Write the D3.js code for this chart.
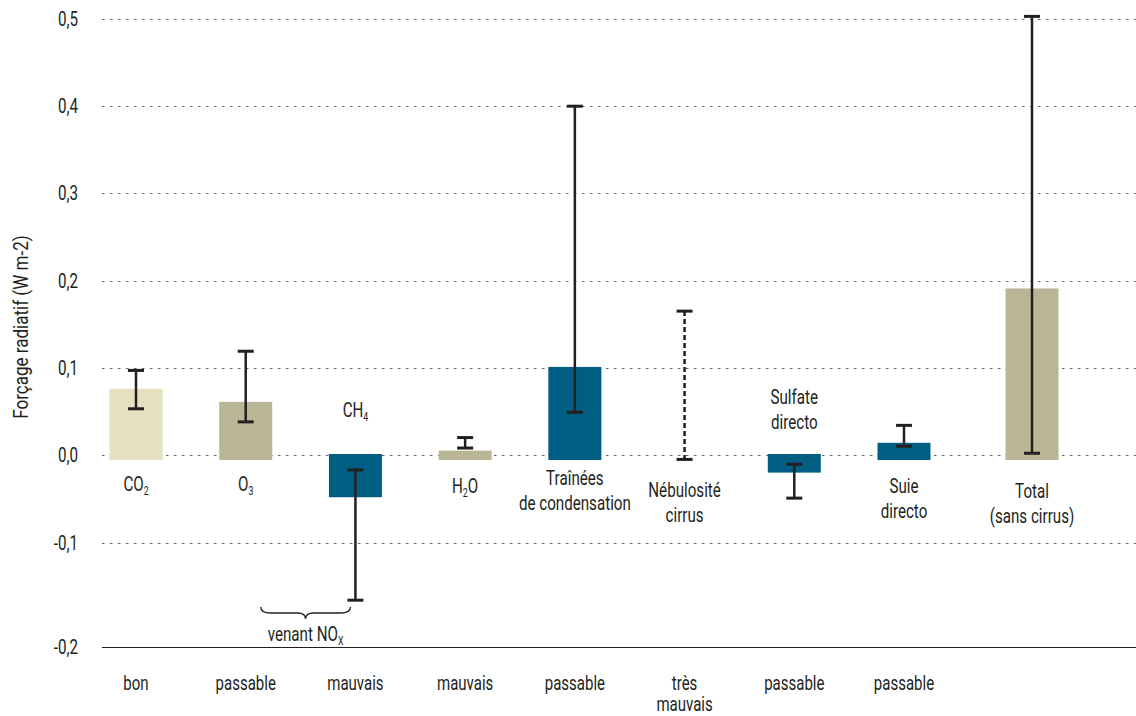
<!DOCTYPE html>
<html>
<head>
<meta charset="utf-8">
<script src="https://cdn.jsdelivr.net/npm/d3@7"></script>
<style>
  html, body { margin: 0; padding: 0; background: #fff; }
  svg text { font-family: "Roboto", "DejaVu Sans Condensed", sans-serif; fill: #231f20; }
</style>
</head>
<body>
<svg id="chart" width="1136" height="716"></svg>
<script>
// ---- data ----
const categories = ["CO2", "O3", "CH4", "H2O", "Trainees", "Nebulosite", "Sulfate", "Suie", "Total"];
const values     = [0.076, 0.061, -0.048, 0.005, 0.101, null, -0.020, 0.014, 0.191];
const errLow     = [0.053, 0.038, -0.155, 0.008, 0.049, -0.005, -0.049, 0.010, 0.002];
const errHigh    = [0.097, 0.119, -0.017, 0.020, 0.400, 0.165, -0.0105, 0.034, 0.503];
const colorKeys  = ["light", "khaki", "blue", "khaki", "blue", "none", "blue", "blue", "khaki"];
const ratings    = [["bon"], ["passable"], ["mauvais"], ["mauvais"], ["passable"], ["très", "mauvais"], ["passable"], ["passable"], []];
const yTicks     = [-0.2, -0.1, 0.0, 0.1, 0.2, 0.3, 0.4, 0.5];
const yTickLabels = ["-0,2", "-0,1", "0,0", "0,1", "0,2", "0,3", "0,4", "0,5"];
// label lines; each line = [main, subscript?, rest?]
const catLabelLines = [
  [["CO", "2"]],
  [["O", "3"]],
  [["CH", "4"]],
  [["H", "2", "O"]],
  [["Traînées"], ["de condensation"]],
  [["Nébulosité"], ["cirrus"]],
  [["Sulfate"], ["directo"]],
  [["Suie"], ["directo"]],
  [["Total"], ["(sans cirrus)"]]
];
const yTitle = "Forçage radiatif (W m-2)";

const palette = {light: "#e5e1c0", khaki: "#b8b694", blue: "#005e82"};

// ---- layout constants ----
const SX = 0.74;       // horizontal condensing of text
const FS = 20.5;       // font size
// first baseline of each category label
const labelBase = [491, 491, 417, 493, 485, 497, 404, 493, 498];
const lineH = 25;

// ---- scales ----
const svg = d3.select("#chart");
const y = d3.scaleLinear().domain([-0.2, -0.1, 0, 0.5]).range([647, 543, 455, 19]);
const x = d3.scaleLinear().domain([0, 7, 8]).range([136, 904, 1032]);
const barW = 53;

function addText(parent, tx, ty, parts, anchor = "middle", size = FS, rotate = 0, sx = SX) {
  const t = parent.append("text")
    .attr("transform", `translate(${tx},${ty})` + (rotate ? ` rotate(${rotate})` : "") + ` scale(${sx},1)`)
    .attr("text-anchor", anchor)
    .attr("font-size", size);
  t.append("tspan").text(parts[0]);
  if (parts.length > 1) {
    t.append("tspan").attr("font-size", size * 0.58).attr("dy", 4).text(parts[1]);
    if (parts.length > 2) t.append("tspan").attr("dy", -4).text(parts[2]);
  }
  return t;
}

// ---- gridlines ----
const grid = svg.append("g");
yTicks.forEach((t, i) => {
  const gy = Math.round(y(t)) + 0.5;
  grid.append("line")
    .attr("x1", 102).attr("x2", 1136).attr("y1", gy).attr("y2", gy)
    .attr("stroke", t === -0.2 ? "#231f20" : "#666")
    .attr("stroke-width", 1.2)
    .attr("stroke-dasharray", t === -0.2 ? null : "2.5,5.5");
  addText(grid, 78, y(t) + 7, [yTickLabels[i]], "end");
});

// y title
addText(svg, 28, 327, [yTitle], "middle", 20.5, -90, 0.83);

// ---- bars ----
const gBars = svg.append("g");
categories.forEach((c, i) => {
  const v = values[i];
  if (v === null) return;
  const top = v >= 0 ? y(v) : y(0) - 1;
  const bot = v >= 0 ? y(0) + 5 : y(v);
  gBars.append("rect")
    .attr("x", x(i) - barW / 2).attr("width", barW)
    .attr("y", top).attr("height", bot - top)
    .attr("fill", palette[colorKeys[i]]);
});

// ---- error bars ----
const gErr = svg.append("g").attr("stroke", "#231f20");
categories.forEach((c, i) => {
  const cx = x(i);
  const dashed = values[i] === null;
  gErr.append("line")
    .attr("x1", cx).attr("x2", cx)
    .attr("y1", y(errHigh[i])).attr("y2", y(errLow[i]))
    .attr("stroke-width", 2.5)
    .attr("stroke-dasharray", dashed ? "5,3" : null);
  [errHigh[i], errLow[i]].forEach(e => {
    gErr.append("line")
      .attr("x1", cx - 8).attr("x2", cx + 8)
      .attr("y1", y(e)).attr("y2", y(e))
      .attr("stroke-width", 3);
  });
});

// ---- category labels ----
const gLab = svg.append("g");
catLabelLines.forEach((lines, i) => {
  lines.forEach((ln, k) => addText(gLab, x(i), labelBase[i] + k * lineH, ln));
});

// ---- brace "venant NOx" ----
const bx0 = x(1) + 15, bx1 = x(2) - 5, bm = (bx0 + bx1) / 2, by = 607;
svg.append("path")
  .attr("d", `M${bx0},${by} Q${bx0},${by + 6} ${bx0 + 10},${by + 6} L${bm - 8},${by + 6} Q${bm},${by + 6} ${bm},${by + 12} Q${bm},${by + 6} ${bm + 8},${by + 6} L${bx1 - 10},${by + 6} Q${bx1},${by + 6} ${bx1},${by}`)
  .attr("fill", "none").attr("stroke", "#231f20").attr("stroke-width", 1.3);
addText(svg, bm, 641, ["venant NO", "X"]);

// ---- ratings ----
const gRat = svg.append("g");
ratings.forEach((r, i) => {
  r.forEach((ln, k) => addText(gRat, x(i), 690 + k * 21, [ln], "middle", 19.5, 0, 0.77));
});
</script>
</body>
</html>
